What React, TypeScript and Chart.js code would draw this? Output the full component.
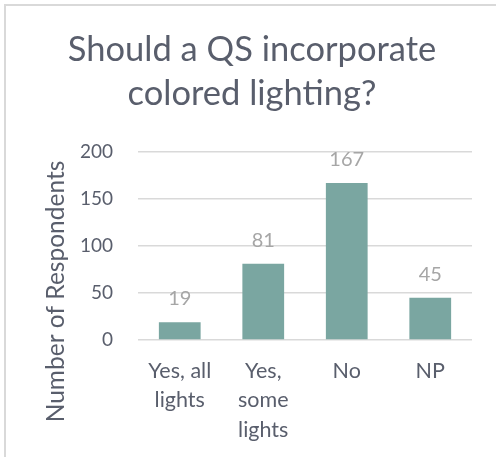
import React, { useEffect, useRef } from "react";
import { Chart, registerables } from "chart.js";

Chart.register(...registerables);

const titleLines = ["Should a QS incorporate", "colored lighting?"];
const yAxisTitle = "Number of Respondents";
const categories: (string | string[])[] = [
  ["Yes, all", "lights"],
  ["Yes,", "some", "lights"],
  "No",
  "NP",
];
const respondents = [19, 81, 167, 45];
const yMin = 0;
const yMax = 200;
const yStep = 50;

const FONT = "Lato, 'Noto Sans', sans-serif";
const TEXT = "#595e6c";
const LABEL = "#a6a6a6";
const BAR = "#7aa6a1";
const GRID = "#d9d9d9";

// Frame lines on the top and left edge of the chart box
const framePlugin = {
  id: "frame",
  beforeDraw(chart: Chart) {
    const ctx = chart.ctx;
    ctx.save();
    ctx.strokeStyle = GRID;
    ctx.lineWidth = 2;
    ctx.beginPath();
    ctx.moveTo(5, chart.height);
    ctx.lineTo(5, 5);
    ctx.lineTo(chart.width, 5);
    ctx.stroke();
    ctx.restore();
  },
};

// Vertical axis title, centred on the plot plus category labels
const axisTitlePlugin = {
  id: "axisTitle",
  afterDraw(chart: Chart) {
    const ctx = chart.ctx;
    const area = chart.chartArea;
    const cy = (area.top + chart.height) / 2 - 13;
    ctx.save();
    ctx.translate(56, cy);
    ctx.rotate(-Math.PI / 2);
    ctx.font = `24.5px ${FONT}`;
    ctx.fillStyle = TEXT;
    ctx.textAlign = "center";
    ctx.textBaseline = "middle";
    ctx.fillText(yAxisTitle, 0, 0);
    ctx.restore();
  },
};

// Value labels above each bar
const valueLabelPlugin = {
  id: "valueLabels",
  afterDatasetsDraw(chart: Chart) {
    const ctx = chart.ctx;
    const meta = chart.getDatasetMeta(0);
    const values = chart.data.datasets[0].data as number[];
    ctx.save();
    ctx.font = `20px ${FONT}`;
    ctx.fillStyle = LABEL;
    ctx.textAlign = "center";
    ctx.textBaseline = "alphabetic";
    meta.data.forEach((bar: any, i: number) => {
      ctx.fillText(String(values[i]), bar.x, bar.y - 17);
    });
    ctx.restore();
  },
};

export default function App() {
  const canvasRef = useRef<HTMLCanvasElement | null>(null);

  useEffect(() => {
    document.body.style.margin = "0";
    const canvas = canvasRef.current;
    if (!canvas) return;
    const chart = new Chart(canvas, {
      type: "bar",
      data: {
        labels: categories,
        datasets: [
          {
            data: respondents,
            backgroundColor: BAR,
            borderWidth: 0,
            categoryPercentage: 1,
            barPercentage: 0.5,
          },
        ],
      },
      plugins: [framePlugin, axisTitlePlugin, valueLabelPlugin],
      options: {
        responsive: false,
        animation: false,
        devicePixelRatio: 1,
        layout: { padding: { left: 32, right: 24, top: 0, bottom: 0 } },
        plugins: {
          legend: { display: false },
          tooltip: { enabled: false },
          title: {
            display: true,
            text: titleLines,
            color: TEXT,
            font: { family: FONT, size: 34.5, weight: "normal", lineHeight: "44px" },
            padding: { top: 27.6, bottom: 36.4 },
          },
        },
        scales: {
          x: {
            grid: { display: false, drawTicks: false },
            border: { display: false },
            ticks: {
              color: TEXT,
              font: { family: FONT, size: 21.5, lineHeight: "29.5px" },
              padding: 16,
              maxRotation: 0,
              autoSkip: false,
            },
            afterFit(scale: any) {
              scale.height = 117;
            },
          },
          y: {
            min: yMin,
            max: yMax,
            grid: { color: GRID, lineWidth: 1.5, drawTicks: false },
            border: { display: false },
            ticks: {
              stepSize: yStep,
              color: TEXT,
              font: { family: FONT, size: 19 },
              padding: 25,
            },
            afterFit(scale: any) {
              scale.width = 106;
            },
          },
        },
      },
    });
    return () => chart.destroy();
  }, []);

  return (
    <div style={{ position: "absolute", left: 0, top: 0, width: 496, height: 457, background: "#fff" }}>
      <canvas ref={canvasRef} width={496} height={457} />
    </div>
  );
}
